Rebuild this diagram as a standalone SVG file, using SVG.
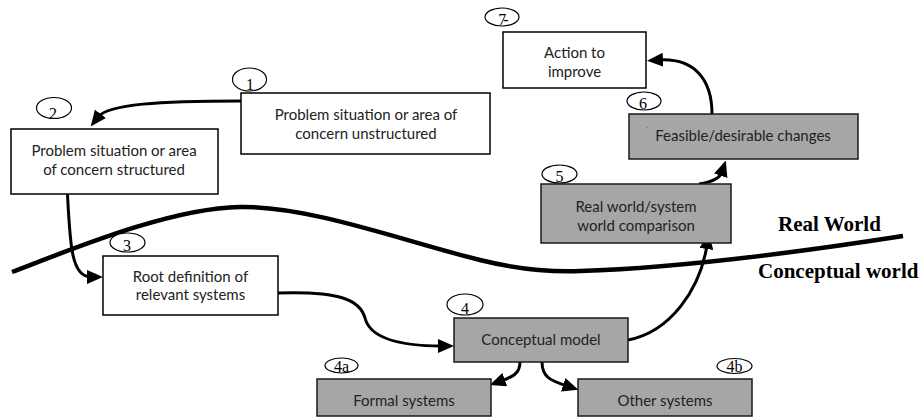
<svg xmlns="http://www.w3.org/2000/svg" width="924" height="417" viewBox="0 0 924 417">
<defs>
<style>
.bw{fill:#fff;stroke:#000;stroke-width:1.5}
.bg{fill:#a6a6a6;stroke:#1a1a1a;stroke-width:1.5}
.t{font-family:"Lato","Liberation Sans",sans-serif;font-size:15px;fill:#222;text-anchor:middle}
.el{fill:#fff;stroke:#000;stroke-width:1.2}
.n{font-family:"Liberation Serif","Times New Roman",serif;font-size:16px;fill:#000;text-anchor:middle}
.c{fill:none;stroke:#000;stroke-width:3}
.w{fill:none;stroke:#000;stroke-width:4.5}
.lbl{font-family:"Liberation Serif","Times New Roman",serif;font-size:21px;font-weight:bold;fill:#000}
</style>
<marker id="ah" markerUnits="userSpaceOnUse" markerWidth="16" markerHeight="14" refX="4" refY="7" orient="auto">
<path d="M0,0 L16,7 L0,14 z" fill="#000"/>
</marker>
</defs>
<rect width="924" height="417" fill="#fff"/>

<g id="world-boundary">
<path class="w" d="M12,272 C70,250 170,208 240,207 C310,206 400,240 480,260 C520,270 550,272 580,271 C680,268 800,252 903,236"/>
<text class="lbl" x="778" y="231">Real World</text>
<text class="lbl" x="758" y="278">Conceptual world</text>
</g>

<g id="connectors">
<path class="c" marker-end="url(#ah)" d="M241,101 C160,101 108,104 98,117"/>
<path class="c" marker-end="url(#ah)" d="M67,185 C70,240 70,277 91,277"/>
<path class="c" marker-end="url(#ah)" d="M278,293 C340,291 360,300 365,318 C370,338 400,346 442,346"/>
<path class="c" marker-end="url(#ah)" d="M628,340 C670,332 700,290 707,245"/>
<path class="c" marker-end="url(#ah)" d="M699,184 C712,182 720,178 722,172"/>
<path class="c" marker-end="url(#ah)" d="M712,114 C712,80 695,58 659,60"/>
<path class="c" marker-end="url(#ah)" d="M520,362 C520,374 512,377 501,381"/>
<path class="c" marker-end="url(#ah)" d="M542,362 C542,378 552,381 567,386"/>
</g>

<g id="node1">
<rect class="bw" x="241" y="93" width="249" height="61"/>
<text class="t" x="366" y="120">Problem situation or area of</text>
<text class="t" x="366" y="139">concern unstructured</text>
<ellipse class="el" cx="249.5" cy="79.5" rx="17" ry="11.5"/>
<text class="n" x="250" y="90">1</text>
</g>

<g id="node2">
<rect class="bw" x="11" y="129" width="207" height="65"/>
<text class="t" x="114" y="156">Problem situation or area</text>
<text class="t" x="114" y="175">of concern structured</text>
<ellipse class="el" cx="54" cy="108" rx="17.5" ry="10.5"/>
<text class="n" x="53" y="119">2</text>
</g>

<g id="node3">
<rect class="bw" x="103" y="256" width="175" height="59"/>
<text class="t" x="190.5" y="282">Root definition of</text>
<text class="t" x="190.5" y="300">relevant systems</text>
<ellipse class="el" cx="127.5" cy="242.5" rx="17.5" ry="9.5"/>
<text class="n" x="127" y="251">3</text>
</g>

<g id="node4">
<rect class="bg" x="454" y="318" width="174" height="44"/>
<text class="t" x="541" y="345">Conceptual model</text>
<ellipse class="el" cx="465" cy="304.5" rx="18" ry="10.5"/>
<text class="n" x="465" y="314">4</text>
</g>

<g id="node4a">
<rect class="bg" x="317" y="379" width="174" height="37"/>
<text class="t" x="404" y="406">Formal systems</text>
<ellipse class="el" cx="341.5" cy="365.5" rx="16.5" ry="7.5"/>
<text class="n" x="341.5" y="372">4a</text>
</g>

<g id="node4b">
<rect class="bg" x="578" y="379" width="174" height="37"/>
<text class="t" x="665" y="406">Other systems</text>
<ellipse class="el" cx="734.5" cy="366" rx="17.5" ry="7.5"/>
<text class="n" x="734.5" y="372">4b</text>
</g>

<g id="node5">
<rect class="bg" x="541" y="184" width="190" height="59"/>
<text class="t" x="636" y="212">Real world/system</text>
<text class="t" x="636" y="231">world comparison</text>
<ellipse class="el" cx="559.5" cy="174" rx="17.5" ry="9"/>
<text class="n" x="559.5" y="182">5</text>
</g>

<g id="node6">
<rect class="bg" x="629" y="114" width="229" height="45"/>
<text class="t" x="743" y="141">Feasible/desirable changes</text>
<text x="647" y="131" style="font-family:'Lato',sans-serif;font-size:6px;fill:#222">'</text>
<ellipse class="el" cx="644" cy="101" rx="17" ry="9"/>
<text class="n" x="643" y="109">6</text>
</g>

<g id="node7">
<rect class="bw" x="503" y="32" width="143" height="56"/>
<text class="t" x="574.5" y="58">Action to</text>
<text class="t" x="574.5" y="77">improve</text>
<ellipse class="el" cx="502" cy="17" rx="17" ry="9"/>
<text class="n" x="502" y="25" letter-spacing="-3">7-</text>
</g>
</svg>
